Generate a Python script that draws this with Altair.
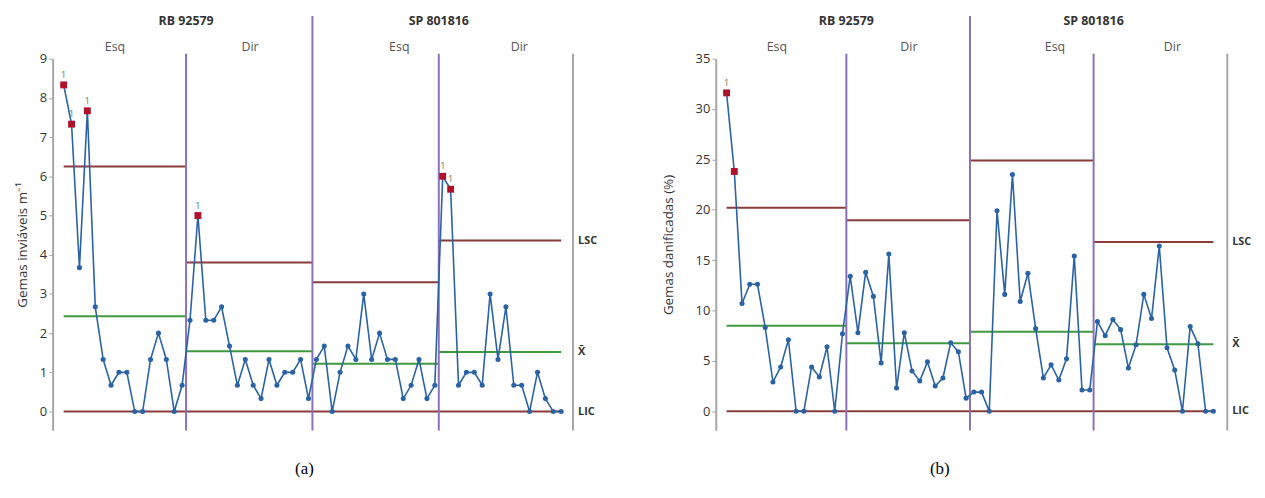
import altair as alt
import pandas as pd

# ---------------- data ----------------
cultivars = ["RB 92579", "SP 801816"]
sides = ["Esq", "Dir", "Esq", "Dir"]

a_vals = [8.33, 7.33, 3.67, 7.67, 2.67, 1.33, 0.67, 1.0, 1.0, 0, 0, 1.33, 2.0, 1.33, 0, 0.67,
          2.33, 5.0, 2.33, 2.33, 2.67, 1.67, 0.67, 1.33, 0.67, 0.33, 1.33, 0.67, 1.0, 1.0, 1.33, 0.33,
          1.33, 1.67, 0, 1.0, 1.67, 1.33, 3.0, 1.33, 2.0, 1.33, 1.33, 0.33, 0.67, 1.33, 0.33, 0.67,
          6.0, 5.67, 0.67, 1.0, 1.0, 0.67, 3.0, 1.33, 2.67, 0.67, 0.67, 0, 1.0, 0.33, 0, 0]
a_lsc = [6.25, 3.80, 3.30, 4.36]
a_mean = [2.43, 1.54, 1.22, 1.52]
a_lic = [0, 0, 0, 0]
a_flag = [1, 2, 4, 18, 49, 50]
a_flag_label = [1, 2, 4, 18, 49, 50]

b_vals = [31.6, 23.8, 10.7, 12.6, 12.6, 8.3, 2.9, 4.4, 7.1, 0, 0, 4.4, 3.4, 6.4, 0, 7.7,
          13.4, 7.8, 13.8, 11.4, 4.8, 15.6, 2.3, 7.8, 4.0, 3.0, 4.9, 2.5, 3.3, 6.8, 5.9, 1.3,
          1.9, 1.9, 0, 19.9, 11.6, 23.5, 10.9, 13.7, 8.2, 3.3, 4.6, 3.1, 5.2, 15.4, 2.1, 2.1,
          8.9, 7.5, 9.1, 8.1, 4.3, 6.6, 11.6, 9.2, 16.4, 6.3, 4.1, 0, 8.4, 6.7, 0, 0]
b_lsc = [20.2, 18.95, 24.9, 16.8]
b_mean = [8.49, 6.75, 7.9, 6.65]
b_lic = [0, 0, 0, 0]
b_flag = [1, 2]
b_flag_label = [1]

# section boundaries in sample-index units
sec_start = [1, 16.5, 32.5, 48.5]
sec_end = [16.5, 32.5, 48.5, 64]
inner_div = [16.5, 48.5]
cult_div = [32.5]
side_x = [7.5, 24.6, 43.5, 58.7]
cult_x = [16.5, 48.5]

FONT = "Open Sans"
BLUE = "#2a62a6"
RED = "#b0102a"
LIMIT = "#8c3b3b"
MEAN = "#3f9a3f"
PURPLE = "#8a70b8"
GRAY = "#a6a6a6"

H = 375


def panel(vals, lsc, mean, lic, flags, flag_labels, ydom, yticks, ytitle, width, xmax,
          title_pad, caption, cap_x):
    xs = alt.Scale(domain=[-0.4, xmax], nice=False, zero=False)
    ys = alt.Scale(domain=ydom, nice=False, zero=False)
    n = len(vals)
    pts = pd.DataFrame({"i": list(range(1, n + 1)), "v": vals})
    pts["flag"] = pts["i"].isin(flags)
    pts["lab"] = ["1" if i in flag_labels else "" for i in pts["i"]]

    lim_rows = []
    for k in range(4):
        lim_rows.append({"xs": sec_start[k], "xe": sec_end[k], "v": lsc[k], "t": "LSC"})
        lim_rows.append({"xs": sec_start[k], "xe": sec_end[k], "v": lic[k], "t": "LIC"})
        lim_rows.append({"xs": sec_start[k], "xe": sec_end[k], "v": mean[k], "t": "X"})
    lim = pd.DataFrame(lim_rows)

    X = lambda f: alt.X(f, scale=xs, axis=None)

    limits = alt.Chart(lim).mark_rule(strokeWidth=2).encode(
        x=X("xs:Q"), x2="xe:Q",
        y=alt.Y("v:Q", scale=ys, axis=alt.Axis(
            values=yticks, title=ytitle, grid=False, titlePadding=title_pad)),
        color=alt.Color("t:N", scale=alt.Scale(domain=["LSC", "LIC", "X"],
                                               range=[LIMIT, LIMIT, MEAN]), legend=None),
    )

    inner = alt.Chart(pd.DataFrame({"x": inner_div})).mark_rule(
        color=PURPLE, strokeWidth=2, clip=False).encode(
        x=X("x:Q"), y=alt.value(-5), y2=alt.value(H))
    cult = alt.Chart(pd.DataFrame({"x": cult_div})).mark_rule(
        color=PURPLE, strokeWidth=2, clip=False).encode(
        x=X("x:Q"), y=alt.value(-43), y2=alt.value(H))
    right = alt.Chart(pd.DataFrame({"x": [xmax]})).mark_rule(
        color=GRAY, strokeWidth=2, clip=False).encode(
        x=X("x:Q"), y=alt.value(-5), y2=alt.value(H))

    line = alt.Chart(pts).mark_line(color=BLUE, strokeWidth=1.6).encode(
        x=X("i:Q"), y=alt.Y("v:Q", scale=ys))
    dots = alt.Chart(pts).transform_filter("!datum.flag").mark_circle(
        color=BLUE, size=26, opacity=1).encode(x=X("i:Q"), y=alt.Y("v:Q", scale=ys))
    reds = alt.Chart(pts).transform_filter("datum.flag").mark_square(
        color=RED, size=48, opacity=1).encode(x=X("i:Q"), y=alt.Y("v:Q", scale=ys))
    labs = alt.Chart(pts).transform_filter("datum.flag").mark_text(
        fontSize=9, color="#5b7b5b", dy=-10, font=FONT).encode(
        x=X("i:Q"), y=alt.Y("v:Q", scale=ys), text="lab:N")

    hdr_side = alt.Chart(pd.DataFrame({"x": side_x, "t": sides})).mark_text(
        fontSize=12.5, color="#555555", font=FONT, baseline="middle").encode(
        x=X("x:Q"), y=alt.value(-12), text="t:N")
    hdr_cult = alt.Chart(pd.DataFrame({"x": cult_x, "t": cultivars})).mark_text(
        fontSize=12.5, fontWeight="bold", color="#333333", font=FONT, baseline="middle").encode(
        x=X("x:Q"), y=alt.value(-38), text="t:N")

    rlab = alt.Chart(pd.DataFrame({"v": [lsc[3], mean[3], lic[3]],
                                   "t": ["LSC", "X\u0304", "LIC"]})).mark_text(
        fontSize=11, fontWeight="bold", color="#333333", font=FONT, align="left",
        baseline="middle").encode(
        x=alt.value(width + 5), y=alt.Y("v:Q", scale=ys), text="t:N")

    cap = alt.Chart(pd.DataFrame({"t": [caption]})).mark_text(
        fontSize=17, font="Liberation Serif", color="#000000", baseline="middle").encode(
        x=alt.value(cap_x), y=alt.value(H + 39), text="t:N")

    return alt.layer(limits, inner, cult, right, line, dots, reds, labs,
                     hdr_side, hdr_cult, rlab, cap).properties(width=width, height=H)


pa = panel(a_vals, a_lsc, a_mean, a_lic, a_flag, a_flag_label, [-0.48, 9],
           list(range(0, 10)), "Gemas inviáveis m⁻¹", 525, 65.5, 10, "(a)", 254)
pb = panel(b_vals, b_lsc, b_mean, b_lic, b_flag, b_flag_label, [-1.9, 35],
           [0, 5, 10, 15, 20, 25, 30, 35], "Gemas danificadas (%)", 516, 65.8, 20, "(b)", 226)

chart = alt.hconcat(pa, pb, spacing=64).properties(
    padding={"left": 7, "top": 5, "right": 5, "bottom": 5}).configure_view(
    stroke=None).configure_axis(
    domainColor=GRAY, domainWidth=2, tickColor=GRAY, tickSize=4,
    labelFont=FONT, labelFontSize=13, labelColor="#333333",
    titleFont=FONT, titleFontSize=13.5, titleColor="#333333", titleFontWeight="normal",
    labelPadding=2)

chart.save("out.html", embed_options={"renderer": "svg", "actions": False})
